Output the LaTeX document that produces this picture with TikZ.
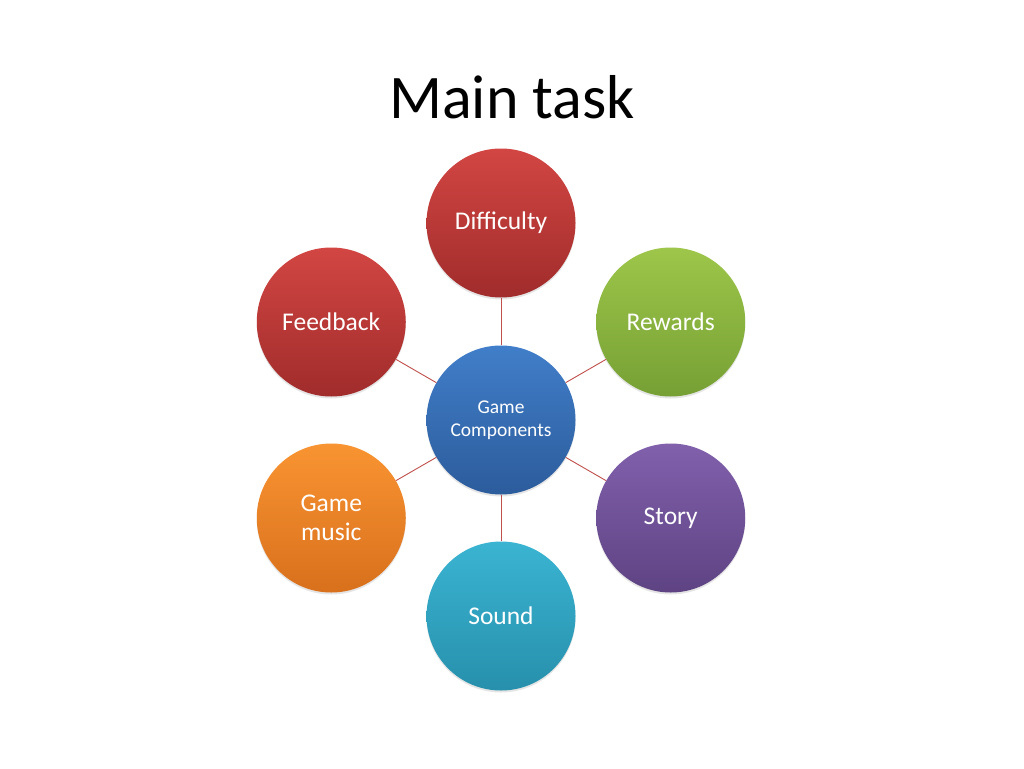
\documentclass[tikz,border=0pt]{standalone}
\usepackage{fontspec}
\setmainfont{Carlito}
\usepackage{tikz}
\usetikzlibrary{shapes,arrows,positioning,shadows}
\usepackage{xcolor}

\definecolor{redTop}{HTML}{D24643}
\definecolor{redBot}{HTML}{A02C2B}
\definecolor{greenTop}{HTML}{9DC64A}
\definecolor{greenBot}{HTML}{76A034}
\definecolor{purpleTop}{HTML}{8160AC}
\definecolor{purpleBot}{HTML}{5E4383}
\definecolor{cyanTop}{HTML}{3AB4D2}
\definecolor{cyanBot}{HTML}{2790AC}
\definecolor{orangeTop}{HTML}{F99432}
\definecolor{orangeBot}{HTML}{D8701C}
\definecolor{blueTop}{HTML}{417EC9}
\definecolor{blueBot}{HTML}{2C5C9C}
\definecolor{linkRed}{HTML}{C0504D}

\begin{document}
\begin{tikzpicture}[
    x=1pt, y=1pt,
    bubble/.style={circle, minimum size=149pt, inner sep=0pt, align=center,
        text=white, font=\fontsize{25.5}{28.5}\selectfont,
        drop shadow={opacity=0.2, shadow xshift=0pt, shadow yshift=-2pt}},
    hubbox/.style={bubble, font=\fontsize{19.5}{23}\selectfont},
    link/.style={draw=linkRed, line width=0.9pt}
]
    \useasboundingbox[fill=white] (0,0) rectangle (1024,-768);

    % Title
    \node[font=\fontsize{62}{66}\selectfont] (title) at (512,-97) {Main task};

    % Hub
    \node[hubbox, top color=blueTop, bottom color=blueBot] (hub) at (501,-420) {Game\\Components};

    % Satellites
    \node[bubble, top color=redTop, bottom color=redBot] (difficulty) at ([shift={(90:197)}]hub) {Difficulty};
    \node[bubble, top color=greenTop, bottom color=greenBot] (rewards) at ([shift={(30:196)}]hub) {Rewards};
    \node[bubble, top color=purpleTop, bottom color=purpleBot] (story) at ([shift={(-30:196)}]hub) {Story};
    \node[bubble, top color=cyanTop, bottom color=cyanBot] (sound) at ([shift={(-90:196)}]hub) {Sound};
    \node[bubble, top color=orangeTop, bottom color=orangeBot] (music) at ([shift={(210:196)}]hub) {Game\\music};
    \node[bubble, top color=redTop, bottom color=redBot] (feedback) at ([shift={(150:196)}]hub) {Feedback};

    % Links
    \draw[link] (hub) -- (difficulty);
    \draw[link] (hub) -- (rewards);
    \draw[link] (hub) -- (story);
    \draw[link] (hub) -- (sound);
    \draw[link] (hub) -- (music);
    \draw[link] (hub) -- (feedback);
\end{tikzpicture}
\end{document}
